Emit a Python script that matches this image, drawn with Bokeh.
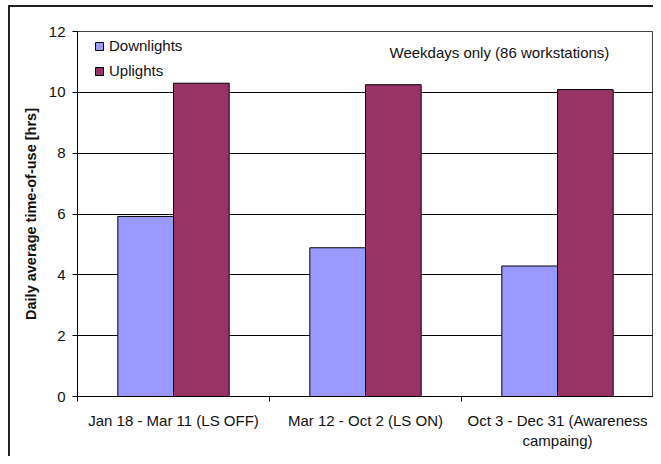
from bokeh.plotting import figure
from bokeh.models import (ColumnDataSource, Range1d, FixedTicker, Legend, LegendItem,
                          Label)
from bokeh.transform import dodge
from bokeh.embed import file_html
from bokeh.resources import INLINE

# ---- data ----
categories = ["Jan 18 - Mar 11 (LS OFF)", "Mar 12 - Oct 2 (LS ON)",
              "Oct 3 - Dec 31 (Awareness\ncampaing)"]
downlights = [5.92, 4.89, 4.29]
uplights = [10.30, 10.25, 10.09]
y_ticks = [0, 2, 4, 6, 8, 10, 12]
note_text = "Weekdays only (86 workstations)"
y_label = "Daily average time-of-use [hrs]"

FONT = "Liberation Sans"
centers = [i + 0.5 for i in range(len(categories))]
bounds = [i for i in range(len(categories) + 1)]

src = ColumnDataSource(dict(x=centers, down=downlights, up=uplights))

p = figure(width=653, height=456, output_backend="svg", toolbar_location=None,
           x_range=Range1d(0, len(categories)), y_range=Range1d(0, 12),
           min_border_left=77, min_border_right=0, min_border_top=31,
           min_border_bottom=60)

r1 = p.vbar(x=dodge("x", -0.145, range=p.x_range), top="down", width=0.29, source=src,
            fill_color="#9999FF", line_color="black", line_width=1)
r2 = p.vbar(x=dodge("x", 0.145, range=p.x_range), top="up", width=0.29, source=src,
            fill_color="#993366", line_color="black", line_width=1)

# frame
p.outline_line_color = "#444444"
p.outline_line_width = 1
p.background_fill_color = "white"
p.border_fill_alpha = 0

# outer chart-area border (left and top edges, drawn behind the transparent border area)
p.styles = {
    "background-color": "white",
    "background-image": "linear-gradient(#222222, #222222), linear-gradient(#222222, #222222)",
    "background-size": "2px 100%, 100% 2px",
    "background-position": "8px 5px, 8px 5px",
    "background-repeat": "no-repeat",
}

# grids
p.xgrid.visible = False
p.ygrid.ticker = FixedTicker(ticks=y_ticks)
p.ygrid.grid_line_color = "black"
p.ygrid.grid_line_width = 1

# y axis
ya = p.yaxis[0]
ya.ticker = FixedTicker(ticks=y_ticks)
ya.axis_line_color = "black"
ya.major_tick_line_color = "black"
ya.major_tick_in = 0
ya.major_tick_out = 5
ya.minor_tick_line_color = None
ya.major_label_standoff = 7
ya.major_label_text_font = FONT
ya.major_label_text_font_size = "15px"
ya.major_label_text_color = "#111111"
ya.axis_label = y_label
ya.axis_label_text_font = FONT
ya.axis_label_text_font_style = "bold"
ya.axis_label_text_font_size = "14.5px"
ya.axis_label_text_color = "#111111"
ya.axis_label_standoff = 7

# x axis
xa = p.xaxis[0]
xa.ticker = FixedTicker(ticks=centers, minor_ticks=bounds)
xa.major_label_overrides = {c: lab for c, lab in zip(centers, categories)}
xa.axis_line_color = "black"
xa.major_tick_line_color = None
xa.major_tick_in = 0
xa.major_tick_out = 0
xa.minor_tick_line_color = "black"
xa.minor_tick_in = 0
xa.minor_tick_out = 5
xa.major_label_standoff = 10
xa.major_label_text_font = FONT
xa.major_label_text_font_size = "15px"
xa.major_label_text_color = "#111111"
xa.major_label_text_line_height = 1.2

# legend
legend = Legend(items=[LegendItem(label="Downlights", renderers=[r1]),
                       LegendItem(label="Uplights", renderers=[r2])],
                location=(17, 317), orientation="vertical",
                padding=0, margin=0, spacing=8,
                glyph_width=10, glyph_height=10, label_height=17,
                label_standoff=5,
                label_text_font=FONT, label_text_font_size="15px",
                label_text_color="#111111",
                border_line_color=None, background_fill_alpha=0)
p.add_layout(legend)

note = Label(x=1.625, y=11.31, text=note_text, text_font=FONT,
             text_font_size="15px", text_color="#111111",
             text_align="left", text_baseline="middle")
p.add_layout(note)

open("out.html", "w").write(file_html(p, INLINE))
